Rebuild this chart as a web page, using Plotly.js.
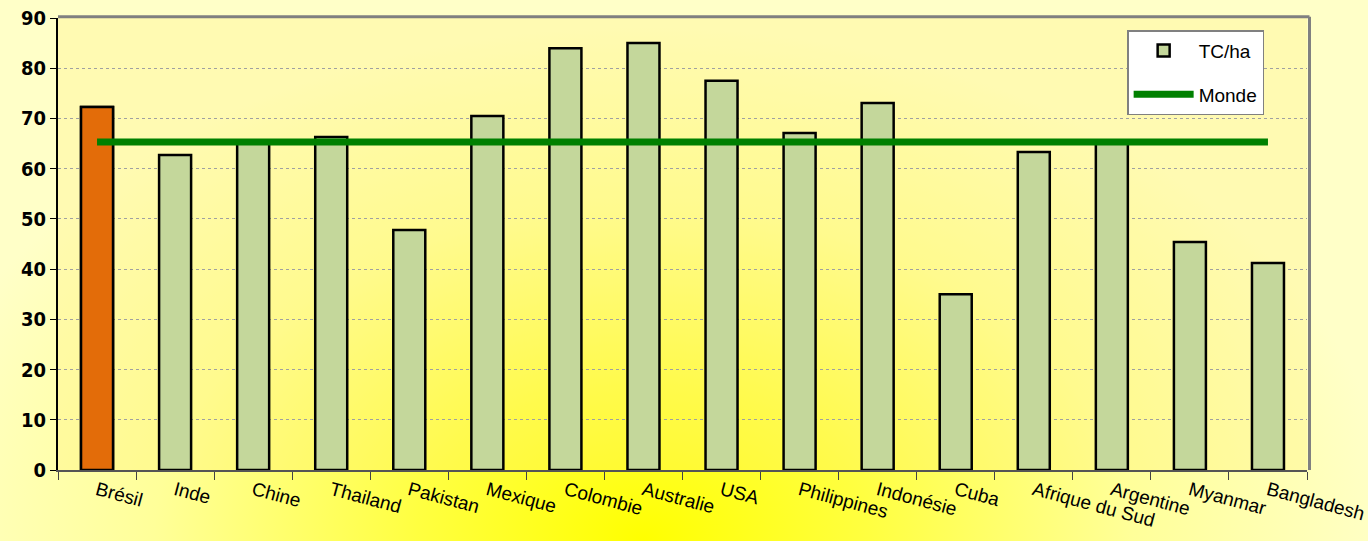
<!DOCTYPE html>
<html>
<head>
<meta charset="utf-8">
<script src="https://cdn.plot.ly/plotly-3.0.1.min.js"></script>
<style>
html,body{margin:0;padding:0;}
#chart{width:1368px;height:541px;background:radial-gradient(ellipse 55% 95% at 47% 100%, #FFFF00 0%, #FFFF40 30%, #FFFF99 65%, #FFFFC8 100%);}
</style>
</head>
<body>
<div id="chart"></div>
<script>
const countries = ["Brésil","Inde","Chine","Thailand","Pakistan","Mexique","Colombie","Australie","USA","Philippines","Indonésie","Cuba","Afrique du Sud","Argentine","Myanmar","Bangladesh"];
const tcha = [72.3, 62.7, 65.5, 66.3, 47.8, 70.5, 84.0, 85.0, 77.5, 67.1, 73.1, 35.0, 63.3, 65.5, 45.4, 41.2];
const monde = [65.3, 65.3, 65.3, 65.3, 65.3, 65.3, 65.3, 65.3, 65.3, 65.3, 65.3, 65.3, 65.3, 65.3, 65.3, 65.3];
const highlight = ["Brésil"];
const highlightValues = countries.filter(c => highlight.includes(c)).map(c => tcha[countries.indexOf(c)]);
const font = "Liberation Sans, Arial, sans-serif";
const condensed = "DejaVu Sans Condensed, Liberation Sans Narrow, Liberation Sans, Arial, sans-serif";

const traces = [
  {type:"bar", x:countries, y:tcha, name:"TC/ha", width:0.41, legendgroup:"a",
   marker:{color:"#C4D79B", line:{color:"#000", width:2.5}}},
  {type:"bar", x:highlight, y:highlightValues, name:"TC/ha", width:0.41, showlegend:false, legendgroup:"a",
   marker:{color:"#E36C09", line:{color:"#000", width:2.5}}},
  {type:"scatter", mode:"lines", x:countries, y:monde, name:"Monde", legendgroup:"b",
   line:{color:"#008000", width:7, shape:"linear"}}
];
const layout = {
  width:1368, height:541,
  margin:{l:58, r:61, t:18, b:71},
  paper_bgcolor:"rgba(0,0,0,0)",
  plot_bgcolor:"rgba(255,235,110,0.25)",
  font:{family:font, color:"#000", size:20},
  showlegend:true,
  barmode:"overlay",
  legend:{x:0.856, y:0.973, xanchor:"left", yanchor:"top", bgcolor:"#FFFFFF",
    bordercolor:"#808080", borderwidth:1.5, font:{size:19, family:font},
    tracegroupgap:16, itemwidth:60, traceorder:"grouped"},
  xaxis:{type:"category", categoryorder:"array", categoryarray:countries,
    tickangle:15, tickson:"boundaries", ticks:"outside", ticklen:8,
    tickcolor:"#444", showline:true, linecolor:"#555", linewidth:2,
    tickfont:{size:19, family:font}, showgrid:false, range:[-0.5,15.5]},
  yaxis:{range:[0,90], dtick:10, ticks:"outside", ticklen:6, tickcolor:"#000",
    showline:true, linecolor:"#000", linewidth:2, zeroline:false,
    showgrid:true, gridcolor:"#A0A0A0", griddash:"dot", gridwidth:1,
    tickfont:{size:20, family:condensed, weight:"bold"}},
  shapes:[
    {type:"line", xref:"paper", yref:"paper", x0:0, x1:1.002, y0:1.003, y1:1.003, line:{color:"#808080", width:3}},
    {type:"line", xref:"paper", yref:"paper", x0:1.002, x1:1.002, y0:0, y1:1.003, line:{color:"#808080", width:3}}
  ]
};
Plotly.newPlot("chart", traces, layout, {displayModeBar:false, staticPlot:true});
</script>
</body>
</html>
